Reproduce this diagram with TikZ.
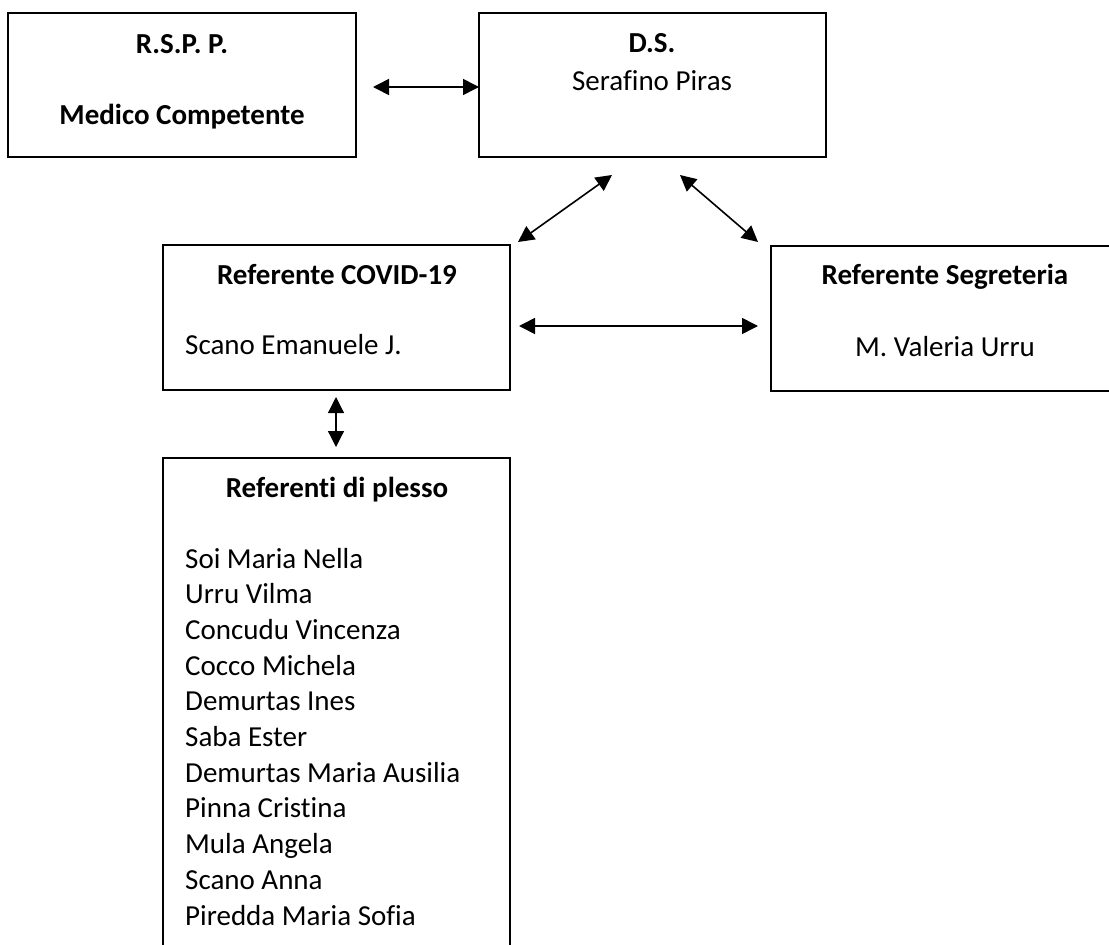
\documentclass[tikz,border=0pt]{standalone}
\usepackage{fontspec}
\setmainfont{Carlito}[RawFeature={-liga;-clig;-dlig}]
\usetikzlibrary{arrows.meta}
\begin{document}
\begin{tikzpicture}[x=1pt,y=-1pt,
  box/.style={draw, line width=1.6pt, rectangle, inner sep=0pt, outer sep=0pt, anchor=north west},
  txt/.style={anchor=base, inner sep=0pt, font=\fontsize{29}{35.8}\selectfont},
  btxt/.style={anchor=base, inner sep=0pt, font=\fontsize{29}{35.8}\selectfont\bfseries},
  ltxt/.style={anchor=base west, inner sep=0pt, font=\fontsize{29}{35.8}\selectfont},
  link/.style={line width=1.6pt, {Triangle[length=16pt,width=16pt]}-{Triangle[length=16pt,width=16pt]}}]
\useasboundingbox (0,0) rectangle (1109,945);
\clip (0,0) rectangle (1109,945);
% boxes
\node[box, minimum width=348pt, minimum height=144pt] (rspp) at (8,13) {};
\node[box, minimum width=347pt, minimum height=144pt] (ds) at (479,13) {};
\node[box, minimum width=347pt, minimum height=145pt] (covid) at (163,245) {};
\node[box, minimum width=349pt, minimum height=145pt] (seg) at (771,246) {};
\node[box, minimum width=347pt, minimum height=560pt] (plesso) at (163,458) {};
% texts
\node[btxt] (t1) at (182,53) {R.S.P. P.};
\node[btxt] (t2) at (182,124) {Medico Competente};
\node[btxt] (t3) at (652,52) {D.S.};
\node[txt] (t4) at (652,90) {Serafino Piras};
\node[btxt] (t5) at (337,284) {Referente COVID-19};
\node[ltxt] (t6) at (185,354) {Scano Emanuele J.};
\node[btxt] (t7) at (945,284) {Referente Segreteria};
\node[txt] (t8) at (945,356) {M. Valeria Urru};
\node[btxt] (t9) at (337,497) {Referenti di plesso};
\foreach \name [count=\i from 0] in {Soi Maria Nella, Urru Vilma, Concudu Vincenza, Cocco Michela, Demurtas Ines, Saba Ester, Demurtas Maria Ausilia, Pinna Cristina, Mula Angela, Scano Anna, Piredda Maria Sofia}
  \node[ltxt] (l\i) at (185,568+35.7*\i) {\name};
% connector ends
\coordinate (h1a) at (373,87);
\coordinate (h1b) at (479,87);
\coordinate (d1a) at (518,242);
\coordinate (d1b) at (612,175);
\coordinate (d2a) at (680,175);
\coordinate (d2b) at (758,242);
\coordinate (h2a) at (519,326);
\coordinate (h2b) at (758,326);
\coordinate (v1a) at (336,397);
\coordinate (v1b) at (336,447);
% connectors
\draw[link] (h1a) -- (h1b);
\draw[link] (d1a) -- (d1b);
\draw[link] (d2a) -- (d2b);
\draw[link] (h2a) -- (h2b);
\draw[link, line width=1.2pt] (v1a) -- (v1b);
\end{tikzpicture}
\end{document}
